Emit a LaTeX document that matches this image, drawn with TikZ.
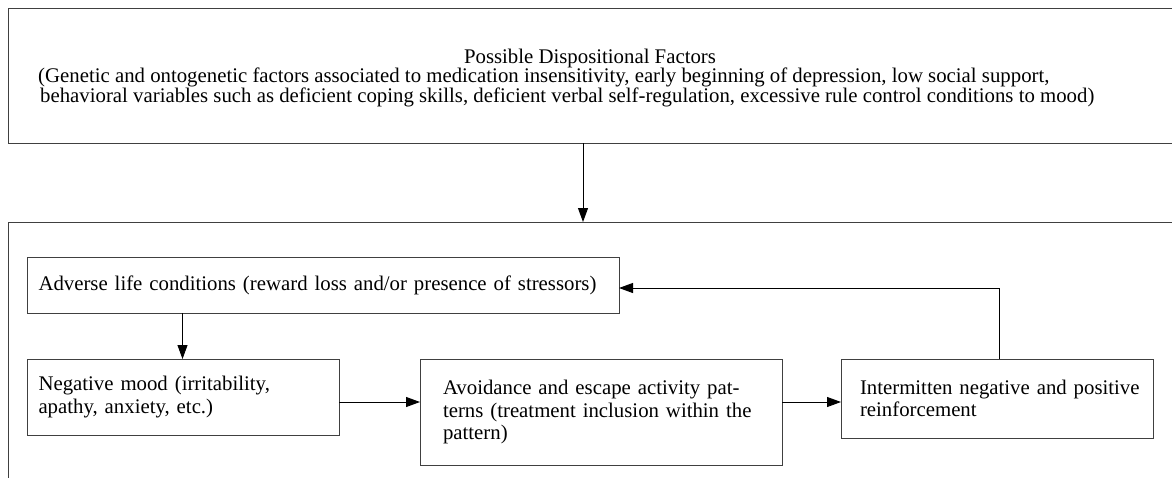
\documentclass[tikz,border=0pt]{standalone}
\usepackage{fontspec}
\setmainfont{Liberation Serif}
\usetikzlibrary{arrows.meta}
\begin{document}
\begin{tikzpicture}[x=1pt,y=-1pt,
  boxline/.style={draw=black!75, line width=1pt},
  flowbox/.style={boxline, rectangle, anchor=north west, outer sep=0pt, inner ysep=0pt,
    align=left, font=\fontsize{20.8}{22.5}\selectfont},
  toptxt/.style={font=\fontsize{20.8}{20}\selectfont, inner sep=0pt},
  arr/.style={draw=black, line width=0.9pt, -{Triangle[length=14pt,width=10pt]}}]
\useasboundingbox (0,0) rectangle (1172,477);
\fill[white] (0,0) rectangle (1172,477);

% top box (cropped on the right)
\node[boxline, rectangle, anchor=north west, outer sep=0pt, minimum width=1250pt, minimum height=135pt] (top) at (8,8) {};
\node[toptxt, anchor=base] (title) at (590,63) {Possible Dispositional Factors};
\node[toptxt, anchor=base west] (l2) at (38,82.5) {(Genetic and ontogenetic factors associated to medication insensitivity, early beginning of depression, low social support,};
\node[toptxt, anchor=base west] (l3) at (40,102) {behavioral variables such as deficient coping skills, deficient verbal self-regulation, excessive rule control conditions to mood)};

% outer box (cropped on the right and bottom)
\node[boxline, rectangle, anchor=north west, outer sep=0pt, minimum width=1250pt, minimum height=320pt] (outer) at (8,222) {};

\coordinate (xa) at (583,0);
\draw[arr] (top.south -| xa) -- (outer.north -| xa);

\node[flowbox, minimum width=591.5pt, minimum height=56pt, inner xsep=11pt, text width=569.5pt] (adv) at (27.5,257)
  {\mbox{Adverse life conditions (reward loss and/or presence of stressors)}};
\node[flowbox, minimum width=311.5pt, minimum height=76pt, inner xsep=11pt, text width=289.5pt] (neg) at (27.5,359)
  {\mbox{Negative mood (irritability,}\\\mbox{apathy, anxiety, etc.)}};
\node[flowbox, minimum width=362pt, minimum height=106pt, inner xsep=23pt, text width=316pt] (avo) at (420,359)
  {\mbox{Avoidance and escape activity pat-}\\\mbox{terns (treatment inclusion within the}\\\mbox{pattern)}};
\node[flowbox, minimum width=312pt, minimum height=79pt, inner xsep=19pt, text width=274pt] (int) at (841,359)
  {\mbox{Intermitten negative and positive}\\\mbox{reinforcement}};

\coordinate (xb) at (182.5,0);
\coordinate (row) at (0,402);
\coordinate (fb) at (999,288);
\draw[arr] (adv.south -| xb) -- (neg.north -| xb);
\draw[arr] (neg.east |- row) -- (avo.west |- row);
\draw[arr] (avo.east |- row) -- (int.west |- row);
\draw[arr] (int.north -| fb) -- (fb) -- (adv.east |- fb);
\end{tikzpicture}
\end{document}
